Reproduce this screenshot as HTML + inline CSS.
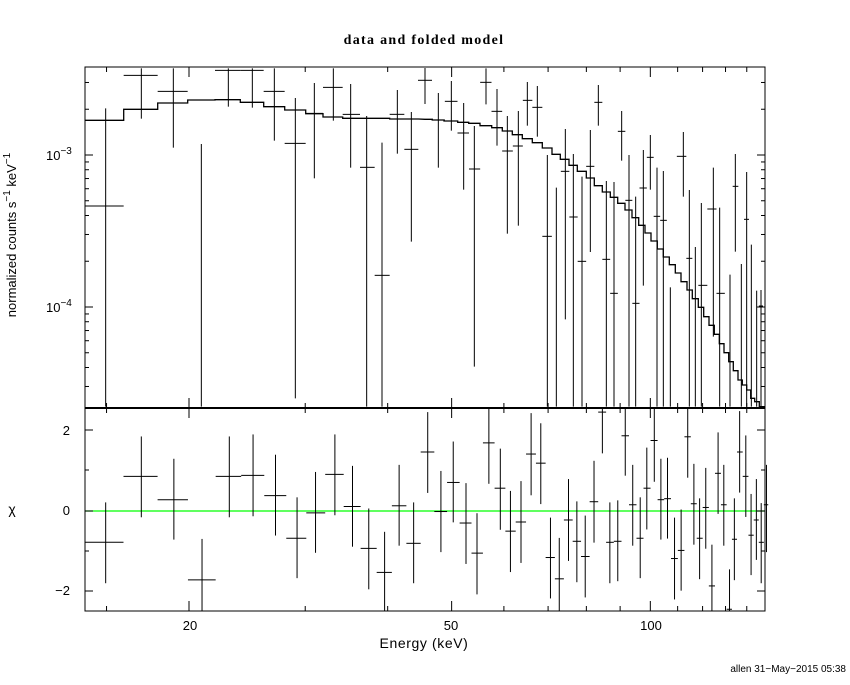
<!DOCTYPE html>
<html><head><meta charset="utf-8"><style>
html,body{margin:0;padding:0;background:#fff;}
svg text{font-family:"Liberation Sans",sans-serif;fill:#000;}
</style></head><body>
<svg id="s" width="850" height="680" xmlns="http://www.w3.org/2000/svg">
<rect width="850" height="680" fill="#fff"/>
<text x="424" y="44" font-size="14" font-weight="bold" letter-spacing="1.3" text-anchor="middle" style="font-family:'Liberation Serif',serif">data and folded model</text>
<text x="424" y="648" font-size="14" letter-spacing="0.6" text-anchor="middle">Energy (keV)</text>
<text x="190" y="630" font-size="13" text-anchor="middle">20</text>
<text x="451" y="630" font-size="13" text-anchor="middle">50</text>
<text x="651" y="630" font-size="13" text-anchor="middle">100</text>
<text x="46" y="160" font-size="13">10<tspan dy="-6" font-size="10">−3</tspan></text>
<text x="46" y="312" font-size="13">10<tspan dy="-6" font-size="10">−4</tspan></text>
<text x="70" y="435" font-size="13" text-anchor="end">2</text>
<text x="70" y="515" font-size="13" text-anchor="end">0</text>
<text x="70" y="595" font-size="13" text-anchor="end">−2</text>
<text transform="translate(16,235) rotate(-90)" font-size="13" text-anchor="middle">normalized counts s<tspan dy="-6" font-size="10">−1</tspan><tspan dy="6"> keV</tspan><tspan dy="-6" font-size="10">−1</tspan></text>
<text x="12" y="514" font-size="14" text-anchor="middle">χ</text>
<text x="846" y="672" font-size="10" text-anchor="end">allen 31−May−2015 05:38</text>
<g id="g" stroke="#000" fill="none" stroke-width="1"></g>
</svg>
<script>
var g=document.getElementById('g'),o='';
function L(x1,y1,x2,y2,w,c){o+='<line x1="'+x1+'" y1="'+y1+'" x2="'+x2+'" y2="'+y2+'"'+(w?' stroke-width="'+w+'"':'')+(c?' stroke="'+c+'"':'')+'/>';}
L(85,511,765,511,1.2,'#00ff00');
o+='<rect x="85" y="67" width="680" height="341"/>';
o+='<rect x="85" y="408" width="680" height="203"/>';
L(85,408,765,408,2);
function X(E){return 189+660*Math.log10(E/20);}
var maj=[20,50,100],mins=[15,30,40,60,70,80,90,110,120,130,140];
maj.forEach(function(E){var x=X(E);L(x,67,x,77);L(x,398,x,408);L(x,408,x,418);L(x,601,x,611);});
mins.forEach(function(E){var x=X(E);L(x,67,x,72);L(x,403,x,408);L(x,408,x,413);L(x,606,x,611);});
function Y(v){return 155-152*(Math.log10(v)+3);}
[1e-3,1e-4].forEach(function(v){var y=Y(v);L(85,y,93,y);L(757,y,765,y);});
[3e-5,4e-5,5e-5,6e-5,7e-5,8e-5,9e-5,2e-4,3e-4,4e-4,5e-4,6e-4,7e-4,8e-4,9e-4,2e-3,3e-3].forEach(function(v){var y=Y(v);if(y>67&&y<408){L(85,y,89,y);L(761,y,765,y);}});
[430,511,591].forEach(function(y){L(85,y,93,y);L(757,y,765,y);});
[470,551].forEach(function(y){L(85,y,89,y);L(761,y,765,y);});
var z1=[[0,116,62,438,145,1040],[116,218,169,46,25,176],[218,308,265,94,25,263],[308,390,349,null,252,1040],[390,466,430,31,25,140],[466,536,502,31,25,143],[536,599,568,94,25,242],[599,662,631,250,114,1015],[662,714,688,160,69,355],[714,773,745,82,25,182],[773,825,797,163,72,323],[825,869,845,322,168,1040],[869,914,891,646,248,1040],[914,958,937,163,90,281],[958,1000,979,268,156,545]];
z1.forEach(function(p){var f=function(v){return 60+v/3;},h=function(v){return 85+v/3;};
 if(p[3]!==null)L(h(p[0]),f(p[3]),h(p[1]),f(p[3]));L(h(p[2]),f(p[4]),h(p[2]),Math.min(408,f(p[5])));});
L(418,80.3,432,80.3);L(425,68,425,104);
var z2=[[40,180,99,323],[79,124,63,212],[116,219,129,389],[148,327,198,920],[183,67,25,133],[216,154,87,257],[247,273,168,521],[280,258,153,497],[307,121,66,197],[337,142,78,230],[367,529,285,1040],[394,null,383,1040],[421,334,207,778],[445,471,282,1040],[471,604,350,1040],[496,319,210,576],[520,127,75,197],[544,598,363,1040],[567,700,366,1040],[590,214,153,302],[612,421,285,1040],[632,730,410,1040],[655,384,270,677],[676,292,225,389],[696,469,323,1040],[715,481,333,1040],[736,null,682,1040],[775,289,216,410],[793,595,390,1040],[811,null,561,1040],[829,676,429,1040],[865,447,323,830],[884,700,443,1040],[915,null,644,1040],[931,379,282,575],[949,null,612,1040],[965,478,336,1040],[979,null,554,1040],[995,null,692,1040],[1008,738,690,1040]];
z2.forEach(function(p,i){var h=function(v){return 425+v/3;},f=function(v){return 60+v/3;};
 var prev=i?z2[i-1][0]:0,next=i<z2.length-1?z2[i+1][0]:1020;var a=(prev+p[0])/2,b=Math.min(1020,(p[0]+next)/2);
 if(p[1]!==null)L(h(a),f(p[1]),h(b),f(p[1]));L(h(p[0]),Math.max(67,f(p[2])),h(p[0]),Math.min(408,f(p[3])));});
var m1=[[0,116,181],[116,218,148],[218,308,129],[308,390,120],[390,466,119],[466,536,127],[536,599,140],[599,662,150],[662,714,161],[714,773,171],[773,914,175],[914,1000,177]];
var pts=[];m1.forEach(function(s){pts.push([85+s[0]/3,60+s[2]/3],[85+s[1]/3,60+s[2]/3]);});
var m2=[[0,22,178],[22,57,180],[57,98,183],[98,131,187],[131,165,190],[165,200,197],[200,232,203],[232,262,213],[262,292,224],[292,322,236],[322,352,248],[352,381,264],[381,406,283],[406,432,298],[432,457,316],[457,484,334],[484,508,354],[508,532,377],[532,556,396],[556,578,412],[578,600,430],[600,621,450],[621,641,473],[641,660,496],[660,678,519],[678,697,543],[697,715,567],[715,733,591],[733,751,614],[751,768,639],[768,786,665],[786,802,690],[802,820,716],[820,836,742],[836,852,770],[852,868,796],[868,883,823],[883,897,851],[897,911,878],[911,925,905],[925,939,932],[939,952,960],[952,965,975],[965,977,990],[977,989,1015],[989,1003,1025],[1003,1020,1040]];
pts.push([85+1000/3,60+177/3]);
m2.forEach(function(s){pts.push([425+s[0]/3,60+s[2]/3],[425+s[1]/3,60+s[2]/3]);});
o+='<polyline stroke-width="1.3" points="'+pts.map(function(p){return p[0].toFixed(1)+','+Math.min(408,p[1]).toFixed(1);}).join(' ')+'"/>';
var r=[[47,406,288,527],[128,211,93,332],[202,280,159,398],[266,517,396,621],[328,211,93,332],[382,208,87,329],[433,268,147,386],[482,394,273,512],[524,319,198,437],[568,205,87,326],[608,300,180,419],[645,424,306,545],[681,495,375,614],[714,298,177,416],[747,409,288,527],[779,139,21,260],[809,315,195,435],[837,229,108,347],[866,349,231,470],[891,438,320,560],[918,112,10,233],[944,246,129,369],[967,373,254,494],[991,346,225,467],[1014,145,24,267],[1036,172,54,293],[1058,451,333,572],[1078,514,393,621],[1099,340,219,461],[1118,403,285,524],[1137,448,327,569],[1157,286,165,407],[1176,21,10,143],[1193,406,288,527],[1211,403,282,521],[1228,91,10,209],[1245,295,177,416],[1262,394,273,512],[1277,246,126,368],[1294,105,10,227],[1309,280,159,398],[1324,277,156,395],[1340,454,333,575],[1355,430,309,549],[1370,94,10,215],[1384,292,174,413],[1397,394,276,515],[1411,303,186,425],[1425,535,413,621],[1439,202,81,322],[1452,295,177,416],[1465,604,486,621],[1476,397,276,518],[1488,139,18,259],[1502,211,90,331],[1514,385,263,503],[1526,340,219,458],[1537,406,290,527],[1549,295,177,435]];
r.forEach(function(p,i){var h=function(v){return 85+v/2.273;},f=function(v){return 405+v/2.957;};
 var prev=i?r[i-1][0]:-47,next=i<r.length-1?r[i+1][0]:1557;var a=Math.max(0,(prev+p[0])/2),b=Math.min(1557,(p[0]+next)/2);
 L(h(a),f(p[1]),h(b),f(p[1]));L(h(p[0]),Math.max(409,f(p[2])),h(p[0]),Math.min(611,f(p[3])));});
g.innerHTML=o;
</script>
</body></html>
